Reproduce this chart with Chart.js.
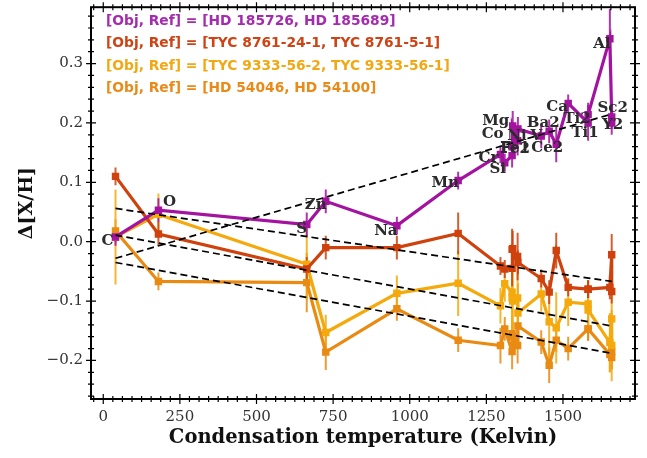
<!DOCTYPE html>
<html lang="en">
<head>
  <meta charset="UTF-8" />
  <title>Condensation temperature trends</title>
  <script src="https://cdn.jsdelivr.net/npm/chart.js"></script>
  <style>
    html, body { margin: 0; padding: 0; background: #fff; }
  </style>
</head>
<body>
  <canvas id="tcChart" width="647" height="458"></canvas>

  <script>
    // elements and their 50% condensation temperatures (K)
    const elements = ['C', 'O', 'S', 'Zn', 'Na', 'Mn', 'Cr', 'Si', 'Fe1', 'Fe2', 'Mg', 'Co', 'Ni', 'V', 'Ba2', 'Ce2', 'Ca', 'Ti1', 'Ti2', 'Al', 'Sc2', 'Y2'];
    const tcond = [40, 180, 664, 726, 958, 1158, 1296, 1310, 1334, 1334, 1336, 1352, 1353, 1429, 1455, 1478, 1517, 1582, 1582, 1653, 1659, 1659];

    // Delta[X/H] per pair
    const hd185726 = [0.008, 0.053, 0.029, 0.068, 0.027, 0.103, 0.147, 0.133, 0.145, 0.160, 0.195, 0.170, 0.190, 0.178, 0.186, 0.164, 0.233, 0.200, 0.214, 0.342, 0.210, 0.200];
    const hd185726Err = [0.015, 0.02, 0.02, 0.02, 0.015, 0.015, 0.015, 0.015, 0.02, 0.02, 0.025, 0.025, 0.02, 0.02, 0.02, 0.03, 0.015, 0.03, 0.02, 0.05, 0.02, 0.02];

    const tyc8761 = [0.110, 0.013, -0.046, -0.010, -0.010, 0.014, -0.041, -0.046, -0.045, -0.013, -0.012, -0.025, -0.035, -0.062, -0.085, -0.015, -0.077, -0.080, -0.080, -0.077, -0.022, -0.084];
    const tyc8761Err = [0.015, 0.02, 0.02, 0.02, 0.02, 0.035, 0.015, 0.015, 0.03, 0.035, 0.03, 0.04, 0.02, 0.015, 0.02, 0.03, 0.015, 0.015, 0.015, 0.02, 0.035, 0.02];

    const tyc9333 = [0.008, 0.046, -0.038, -0.153, -0.087, -0.070, -0.108, -0.071, -0.085, -0.095, -0.100, -0.095, -0.120, -0.088, -0.135, -0.145, -0.102, -0.105, -0.115, -0.170, -0.130, -0.175];
    const tyc9333Err = [0.08, 0.035, 0.06, 0.03, 0.03, 0.055, 0.03, 0.03, 0.05, 0.06, 0.05, 0.06, 0.05, 0.03, 0.06, 0.06, 0.04, 0.04, 0.03, 0.05, 0.04, 0.06];

    const hd54046 = [0.018, -0.067, -0.069, -0.186, -0.113, -0.166, -0.175, -0.147, -0.185, -0.155, -0.160, -0.175, -0.142, -0.169, -0.208, -0.166, -0.180, -0.147, -0.147, -0.190, -0.185, -0.195];
    const hd54046Err = [0.02, 0.015, 0.05, 0.03, 0.02, 0.02, 0.03, 0.02, 0.03, 0.03, 0.025, 0.03, 0.02, 0.02, 0.03, 0.02, 0.02, 0.02, 0.02, 0.03, 0.03, 0.02];

    // linear fits (end points)
    const fitX = [40, 1659];
    const fitHd185726 = [-0.028, 0.215];
    const fitTyc8761 = [0.056, -0.067];
    const fitTyc9333 = [0.011, -0.142];
    const fitHd54046 = [-0.035, -0.188];

    const pairNames = [
      '[Obj, Ref] = [HD 185726, HD 185689]',
      '[Obj, Ref] = [TYC 8761-24-1, TYC 8761-5-1]',
      '[Obj, Ref] = [TYC 9333-56-2, TYC 9333-56-1]',
      '[Obj, Ref] = [HD 54046, HD 54100]'
    ];

    const xTicks = [0, 250, 500, 750, 1000, 1250, 1500];
    const yTicks = [-0.2, -0.1, 0.0, 0.1, 0.2, 0.3];

    const colors = ['#a3139f', '#cf420d', '#f4a90d', '#e98a12'];
    const textColors = ['#a52aaf', '#cf4213', '#f2a812', '#ea8a18'];

    // where each element name sits relative to its (purple) point, px
    const labelOffset = {
      C: [-8, 4], O: [11, -8], S: [-5, 5], Zn: [-10, 4], Na: [-11, 5], Mn: [-13, 3],
      Cr: [-12, 4], Si: [-7, 6], Fe1: [3, -7], Fe2: [3, 2], Mg: [-17, -5], Co: [-25, -7],
      Ni: [-1, 7], V: [-5, 0], Ba2: [-6, -8], Ce2: [-9, 4], Ca: [-11, 4],
      Ti1: [-3, 10], Ti2: [-11, 4], Al: [-8, 5], Sc2: [1, -9], Y2: [1, 2]
    };

    const pairValues = [hd185726, tyc8761, tyc9333, hd54046];
    const pairErrors = [hd185726Err, tyc8761Err, tyc9333Err, hd54046Err];
    const pairFits = [fitHd185726, fitTyc8761, fitTyc9333, fitHd54046];

    const datasets = [];
    pairFits.forEach((f, i) => {
      datasets.push({
        data: fitX.map((x, k) => ({ x: x, y: f[k] })),
        borderColor: '#000',
        borderWidth: 1.7,
        borderDash: [7, 4],
        pointRadius: 0,
        order: 0
      });
    });
    pairValues.forEach((vals, i) => {
      datasets.push({
        label: pairNames[i],
        data: vals.map((v, k) => ({ x: tcond[k], y: v })),
        errors: pairErrors[i],
        borderColor: colors[i],
        backgroundColor: colors[i],
        pointBackgroundColor: colors[i],
        pointBorderColor: colors[i],
        pointStyle: 'rect',
        pointRadius: 3,
        borderWidth: 3.2,
        tension: 0,
        order: 1 + i
      });
    });

    const errorBars = {
      id: 'errorBars',
      beforeDatasetsDraw(chart) {
        const { ctx, chartArea: a, scales: { x, y } } = chart;
        ctx.save();
        ctx.beginPath();
        ctx.rect(a.left, a.top, a.right - a.left, a.bottom - a.top);
        ctx.clip();
        ctx.lineWidth = 2;
        ctx.globalAlpha = 0.85;
        // draw back to front like the lines
        for (let i = chart.data.datasets.length - 1; i >= 0; i--) {
          const ds = chart.data.datasets[i];
          if (!ds.errors) continue;
          ctx.strokeStyle = ds.borderColor;
          ds.data.forEach((p, j) => {
            const px = x.getPixelForValue(p.x);
            ctx.beginPath();
            ctx.moveTo(px, y.getPixelForValue(p.y - ds.errors[j]));
            ctx.lineTo(px, y.getPixelForValue(p.y + ds.errors[j]));
            ctx.stroke();
          });
        }
        ctx.restore();
      }
    };

    const frame = {
      id: 'frame',
      afterDraw(chart) {
        const { ctx, chartArea: a, scales: { x, y } } = chart;
        ctx.save();
        ctx.strokeStyle = '#000';
        ctx.lineWidth = 1.2;
        ctx.beginPath();
        // x ticks, 8 per major step
        for (let k = -2; k < 60; k++) {
          const v = k * 31.25;
          if (v < x.min || v > x.max) continue;
          const px = x.getPixelForValue(v);
          const len = k % 8 === 0 ? 5 : 3;
          ctx.moveTo(px, a.bottom - len); ctx.lineTo(px, a.bottom + len);
          ctx.moveTo(px, a.top - len); ctx.lineTo(px, a.top + len);
        }
        // y ticks, every 0.02
        for (let k = -14; k < 21; k++) {
          const v = k * 0.02;
          if (v < y.min || v > y.max) continue;
          const py = y.getPixelForValue(v);
          const len = k % 5 === 0 ? 5 : 3;
          ctx.moveTo(a.left - len, py); ctx.lineTo(a.left + len, py);
          ctx.moveTo(a.right - len, py); ctx.lineTo(a.right + len, py);
        }
        ctx.stroke();
        ctx.lineWidth = 2;
        ctx.strokeRect(a.left, a.top, a.right - a.left, a.bottom - a.top);
        ctx.restore();
      }
    };

    const elementLabels = {
      id: 'elementLabels',
      afterDatasetsDraw(chart) {
        const { ctx, scales: { x, y } } = chart;
        ctx.save();
        ctx.font = 'bold 15px "DejaVu Serif"';
        ctx.fillStyle = '#2b2b2b';
        ctx.textAlign = 'center';
        ctx.textBaseline = 'middle';
        elements.forEach((el, k) => {
          const off = labelOffset[el] || [0, 0];
          const px = x.getPixelForValue(tcond[k]) + off[0];
          const py = y.getPixelForValue(hd185726[k]) + off[1];
          ctx.fillText(el, px, py);
        });
        ctx.restore();
      }
    };

    const legendText = {
      id: 'legendText',
      afterDraw(chart) {
        const { ctx } = chart;
        ctx.save();
        // size the font so the longest line spans ~334px like the original
        ctx.font = 'bold 14px "DejaVu Sans"';
        const w = ctx.measureText(pairNames[1]).width;
        const size = Math.min(16, 14 * 334 / w);
        ctx.font = 'bold ' + size.toFixed(1) + 'px "DejaVu Sans"';
        ctx.textAlign = 'left';
        ctx.textBaseline = 'middle';
        pairNames.forEach((name, i) => {
          ctx.fillStyle = textColors[i];
          ctx.fillText(name, 106, 21 + i * 22.5);
        });
        ctx.restore();
      }
    };

    new Chart(document.getElementById('tcChart'), {
      type: 'line',
      data: { datasets: datasets },
      options: {
        responsive: false,
        animation: false,
        layout: { padding: { top: 5, right: 12, left: 0, bottom: 0 } },
        plugins: { legend: { display: false }, tooltip: { enabled: false } },
        scales: {
          x: {
            type: 'linear',
            min: -40,
            max: 1735,
            afterFit: s => { s.height = 59; s.paddingLeft = 0; s.paddingRight = 0; },
            afterBuildTicks: s => { s.ticks = xTicks.map(v => ({ value: v })); },
            grid: { display: false, drawTicks: false },
            border: { display: false },
            ticks: {
              padding: 9,
              color: '#333',
              autoSkip: false,
              maxRotation: 0,
              font: { family: 'DejaVu Serif', size: 15 },
              callback: v => String(v)
            },
            title: {
              display: true,
              text: 'Condensation temperature (Kelvin)',
              color: '#111',
              font: { family: 'DejaVu Serif', size: 19.5, weight: 'bold' },
              padding: { top: 0, bottom: 8 }
            }
          },
          y: {
            type: 'linear',
            min: -0.265,
            max: 0.395,
            afterFit: s => { s.width = 91; s.paddingTop = 0; s.paddingBottom = 0; },
            afterBuildTicks: s => { s.ticks = yTicks.map(v => ({ value: v })); },
            grid: { display: false, drawTicks: false },
            border: { display: false },
            ticks: {
              padding: 8,
              color: '#333',
              font: { family: 'DejaVu Serif', size: 15 },
              callback: v => (v < -1e-9 ? '\u2212' : '') + Math.abs(v).toFixed(1)
            },
            title: {
              display: true,
              text: 'Δ[X/H]',
              color: '#111',
              font: { family: 'DejaVu Serif', size: 19, weight: 'bold' },
              padding: { top: 16, bottom: 0 }
            }
          }
        }
      },
      plugins: [errorBars, frame, elementLabels, legendText]
    });
  </script>
</body>
</html>
